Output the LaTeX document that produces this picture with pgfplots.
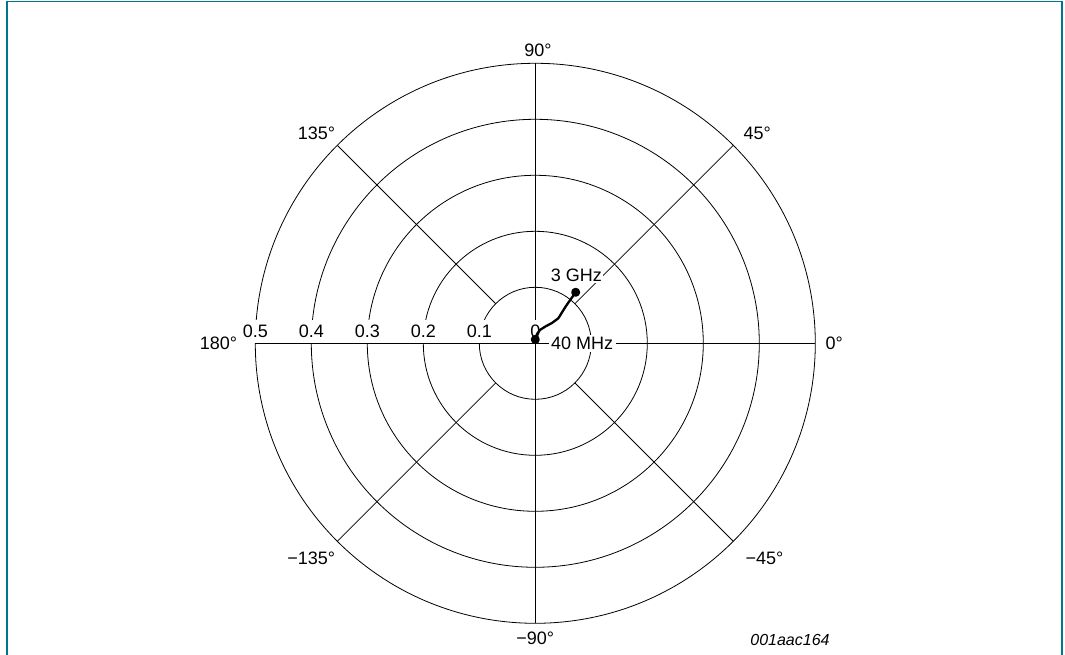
\documentclass[border=0pt]{standalone}
\usepackage{fontspec}
\setmainfont{Liberation Sans}
\usepackage{pgfplots}
\pgfplotsset{compat=1.18}
\definecolor{framecol}{RGB}{0,118,140}
\tikzset{rl/.style={anchor=south, fill=white, inner xsep=1pt, inner ysep=4pt}}

\begin{document}
\fontsize{13.5}{16}\selectfont
\begin{tikzpicture}[x=0.75pt,y=0.75pt]
\useasboundingbox (-535.3,-311.7) rectangle (529.7,343.3);
\draw[framecol, line width=1.2pt] (-528,-330) -- (-528,341.6) -- (526.4,341.6) -- (526.4,-330);
\begin{axis}[
  at={(0,0)}, anchor=origin,
  width=420pt, height=420pt, scale only axis,
  xmin=-0.5, xmax=0.5, ymin=-0.5, ymax=0.5,
  hide axis, clip=false,
]
% grid
\draw[line width=0.6pt] (axis cs:0,0) circle[radius=0.1];
\draw[line width=0.6pt] (axis cs:0,0) circle[radius=0.2];
\draw[line width=0.6pt] (axis cs:0,0) circle[radius=0.3];
\draw[line width=0.6pt] (axis cs:0,0) circle[radius=0.4];
\draw[line width=0.6pt] (axis cs:0,0) circle[radius=0.5];
\draw[line width=0.6pt] (axis cs:-0.5,0) -- (axis cs:0.5,0);
\draw[line width=0.6pt] (axis cs:0,-0.5) -- (axis cs:0,0.5);
\draw[line width=0.6pt] (axis cs:0.070711,0.070711) -- (axis cs:0.353553,0.353553);
\draw[line width=0.6pt] (axis cs:-0.070711,0.070711) -- (axis cs:-0.353553,0.353553);
\draw[line width=0.6pt] (axis cs:-0.070711,-0.070711) -- (axis cs:-0.353553,-0.353553);
\draw[line width=0.6pt] (axis cs:0.070711,-0.070711) -- (axis cs:0.353553,-0.353553);
% angle labels
\node[anchor=west, inner sep=0pt, xshift=7.5pt] at (axis cs:0.5,0) {0°};
\node[anchor=east, inner sep=0pt, xshift=-13.5pt] at (axis cs:-0.5,0) {180°};
\node[anchor=south, inner sep=0pt, yshift=4.5pt, xshift=2pt] at (axis cs:0,0.5) {90°};
\node[anchor=north, inner sep=0pt, yshift=-6.5pt] at (axis cs:0,-0.5) {−90°};
\node[anchor=south west, inner sep=0pt, xshift=7.5pt, yshift=3.75pt] at (axis cs:0.353553,0.353553) {45°};
\node[anchor=south east, inner sep=0pt, xshift=-1.5pt, yshift=3.75pt] at (axis cs:-0.353553,0.353553) {135°};
\node[anchor=north east, inner sep=0pt, xshift=-1.5pt, yshift=-8pt] at (axis cs:-0.353553,-0.353553) {−135°};
\node[anchor=north west, inner sep=0pt, xshift=9pt, yshift=-8pt] at (axis cs:0.353553,-0.353553) {−45°};
% radius labels
\node[rl] at (axis cs:-0.5,0) {0.5};
\node[rl] at (axis cs:-0.4,0) {0.4};
\node[rl] at (axis cs:-0.3,0) {0.3};
\node[rl] at (axis cs:-0.2,0) {0.2};
\node[rl] at (axis cs:-0.1,0) {0.1};
\node[rl] at (axis cs:0,0) {0};
% frequency labels
\node[fill=white, inner xsep=1pt, inner ysep=1.5pt] at (axis cs:0.0732,0.1220) {3 GHz};
\node[fill=white, inner xsep=2pt, inner ysep=1.5pt] at (axis cs:0.0838,0) {40 MHz};
% data
\addplot[black, line width=1.75pt, line join=round, mark=*, mark size=2.5pt, mark indices={1,8}] coordinates {
  (0.0000,0.0068) (0.0030,0.0166) (0.0084,0.0238) (0.0173,0.0296) (0.0298,0.0363) (0.0411,0.0446) (0.0548,0.0666) (0.0721,0.0911)
};
\end{axis}
\node[font=\itshape\fontsize{12}{14}\selectfont] at (254.7,-296.7) {001aac164};
\end{tikzpicture}
\end{document}
